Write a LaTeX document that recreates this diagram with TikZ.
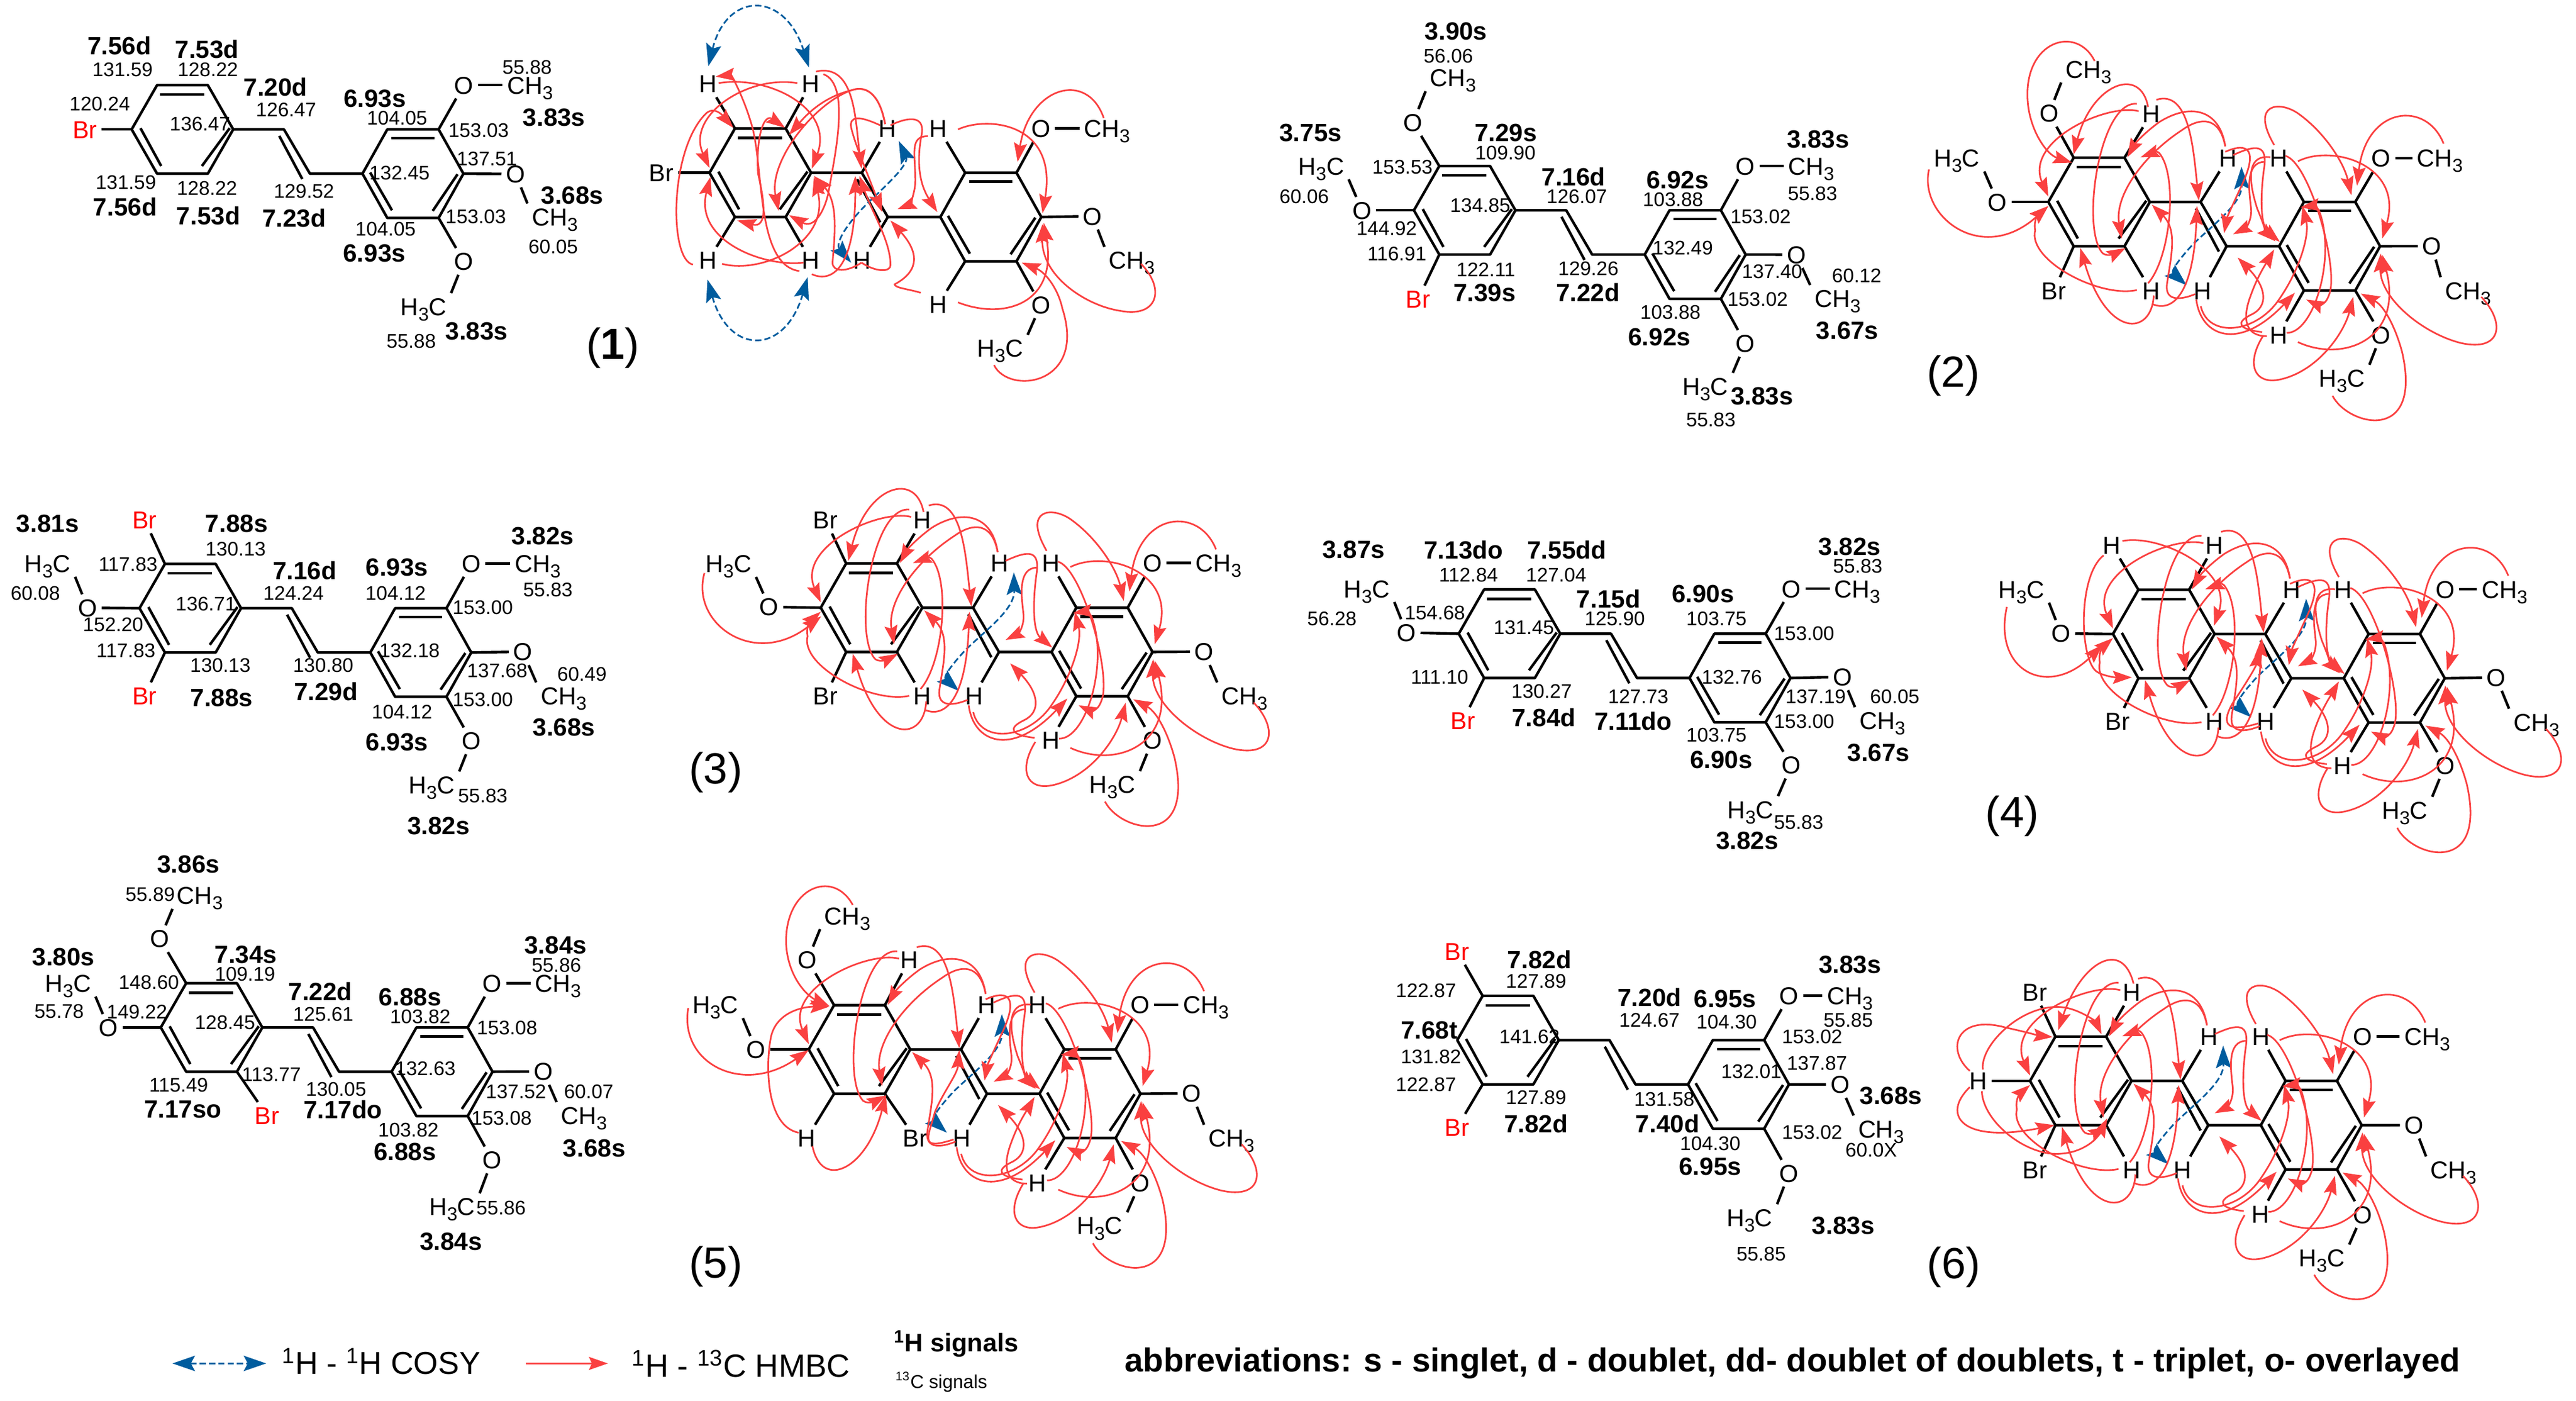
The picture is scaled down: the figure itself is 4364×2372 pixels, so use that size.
\documentclass[tikz,border=0pt]{standalone}
\usepackage{fontspec}
\setmainfont{Liberation Sans}
\usetikzlibrary{arrows.meta}
\definecolor{hmbcred}{RGB}{250,64,64}
\definecolor{cosyblue}{RGB}{0,92,158}
\newcommand{\methyl}{CH\raisebox{-2.6pt}{\fontsize{9}{9}\selectfont 3}}
\newcommand{\lmethyl}{H\raisebox{-2.6pt}{\fontsize{9}{9}\selectfont 3}C}
\tikzset{
  zoomed/.style n args={4}{shift={(#1*0.01cm,-#2*0.01cm)},x={#3*0.01cm/1568},y={-#4*0.01cm/1568}},
  bond/.style={line width=1.25pt,line join=round},
  atom/.style={font=\fontsize{11.8}{14}\selectfont,inner sep=2pt,text height=8.5pt,text depth=0pt},
  bromo/.style={atom,text=red},
  hsig/.style={font=\fontsize{12}{14}\selectfont\bfseries,inner sep=0pt},
  csig/.style={font=\fontsize{9.5}{11}\selectfont,inner sep=0pt},
  pnum/.style={font=\fontsize{21}{24}\selectfont,inner sep=0pt},
  hmbc/.style={color=hmbcred,line width=.8pt,-{Stealth[length=3.2mm,width=2.2mm,inset=.5mm]}},
  cosy/.style={color=cosyblue,line width=.8pt,dash pattern=on 3pt off 1.5pt,{Stealth[length=3.8mm,width=2.6mm,inset=.7mm]}-{Stealth[length=3.8mm,width=2.6mm,inset=.7mm]}},
}
% the stilbene frame, in pixels from the left corner of the first ring
\newcommand{\stilbene}[3]{%
  \begin{scope}[shift={(#2,#3)},x=0.01cm,y=0.01cm]
  \coordinate (#1a1) at (0,0); \coordinate (#1a2) at (43,75); \coordinate (#1a3) at (129,75);
  \coordinate (#1a4) at (172,0); \coordinate (#1a5) at (129,-75); \coordinate (#1a6) at (43,-75);
  \coordinate (#1v1) at (258,0); \coordinate (#1v2) at (302,-75);
  \coordinate (#1b1) at (391,-75); \coordinate (#1b2) at (433,0); \coordinate (#1b3) at (520,0);
  \coordinate (#1b4) at (562,-75); \coordinate (#1b5) at (520,-150); \coordinate (#1b6) at (433,-150);
  \draw[bond] (#1a1) -- (#1a2) -- (#1a3) -- (#1a4) -- (#1a5) -- (#1a6) -- cycle;
  \draw[bond] (#1a4) -- (#1v1) -- (#1v2) -- (#1b1);
  \draw[bond] (#1b1) -- (#1b2) -- (#1b3) -- (#1b4) -- (#1b5) -- (#1b6) -- cycle;
  \draw[bond] (48,59) -- (123,59);
  \draw[bond] (15,2) -- (50,-62);
  \draw[bond] (166,2) -- (119,-62);
  \draw[bond] (250,-11) -- (289,-84);
  \draw[bond] (440,-15) -- (513,-15);
  \draw[bond] (404,-73) -- (441,-137);
  \draw[bond] (552,-76) -- (510,-138);
  \end{scope}}
% correlations that the panels share, written in the frame of panel 2
\newcommand{\ringBarcs}{%
  \draw[hmbc] (1395,530) .. controls (1350,370) and (1190,390) .. (1165,685);
  \draw[hmbc] (1008,595) .. controls (1100,530) and (1290,610) .. (1232,880);
  \draw[hmbc] (1495,1095) .. controls (1560,1190) and (1550,1300) .. (1440,1265) .. controls (1340,1230) and (1225,1100) .. (1228,935);
  \draw[hmbc] (1100,1460) .. controls (1140,1570) and (1340,1640) .. (1285,1300) .. controls (1270,1220) and (1240,1130) .. (1175,1083);
  \draw[hmbc] (1008,1262) .. controls (1130,1340) and (1290,1250) .. (1232,940);
  \draw[hmbc] (945,535) .. controls (880,380) and (960,370) .. (1010,420) .. controls (1080,490) and (1130,600) .. (1150,720);
  \draw[hmbc] (915,1240) .. controls (870,1340) and (890,1420) .. (960,1400) .. controls (1060,1370) and (1130,1230) .. (1155,1095);
  \draw[hmbc] (738,1105) .. controls (750,1240) and (850,1300) .. (1000,1080);
  \draw[hmbc] (750,1130) .. controls (770,1250) and (900,1230) .. (960,1100) .. controls (1010,1000) and (1040,870) .. (1020,760);
  \draw[hmbc] (975,575) .. controls (1040,600) and (1120,1000) .. (1090,1090) .. controls (1080,1130) and (1060,1125) .. (1030,1105);
  \draw[hmbc] (978,1228) .. controls (1050,1230) and (1110,950) .. (1065,780) .. controls (1060,765) and (1040,760) .. (1015,765);
  \draw[cosy] (712,1052) .. controls (670,1000) and (690,960) .. (730,900) .. controls (790,820) and (860,750) .. (858,615);}
\newcommand{\vinylarcs}{%
  \draw[hmbc] (815,540) .. controls (800,400) and (720,380) .. (640,450) .. controls (600,490) and (575,530) .. (555,580);
  \draw[hmbc] (815,540) .. controls (800,430) and (750,430) .. (700,480) .. controls (600,570) and (520,720) .. (540,880);
  \draw[hmbc] (632,368) .. controls (720,330) and (730,550) .. (745,740);
  \draw[hmbc] (735,1085) .. controls (700,1105) and (655,1115) .. (660,1050) .. controls (670,950) and (690,850) .. (620,755);
  \draw[hmbc] (836,572) .. controls (898,532) and (928,532) .. (918,622) .. controls (908,722) and (908,832) .. (960,892);
  \draw[hmbc] (920,597) .. controls (868,597) and (878,702) .. (883,762) .. controls (888,812) and (868,842) .. (836,864);
  \draw[hmbc] (913,1225) .. controls (850,1215) and (840,1190) .. (885,1160) .. controls (930,1130) and (925,1060) .. (848,950);}
\newcommand{\vextraarcs}{%
  \draw[hmbc] (815,560) .. controls (880,520) and (900,560) .. (860,680) .. controls (840,740) and (820,800) .. (812,860);
  \draw[hmbc] (935,580) .. controls (880,570) and (870,640) .. (900,770) .. controls (915,820) and (925,860) .. (948,890);
  \draw[hmbc] (925,1240) .. controls (870,1240) and (860,1180) .. (880,1100) .. controls (900,1020) and (920,980) .. (945,920);}
\newcommand{\aToparcs}{%
  \draw[hmbc] (585,410) .. controls (500,380) and (280,520) .. (345,725);
  \draw[hmbc] (580,383) .. controls (480,370) and (430,850) .. (490,935) .. controls (505,950) and (530,930) .. (550,915);}
\newcommand{\aBotarcs}{%
  \draw[hmbc] (580,1070) .. controls (480,1100) and (290,960) .. (310,850) .. controls (305,810) and (320,790) .. (345,760);
  \draw[hmbc] (625,1090) .. controls (620,1240) and (500,1250) .. (430,915);
  \draw[hmbc] (610,1045) .. controls (670,950) and (690,650) .. (640,565) .. controls (630,550) and (610,570) .. (590,580);
  \draw[hmbc] (622,1122) .. controls (670,1150) and (730,1100) .. (740,760);}
\begin{document}
\begin{tikzpicture}[x=0.01cm,y=-0.01cm]
\useasboundingbox (0,0) rectangle (4364,2372);

% panel 1, shifts
\begin{scope}[zoomed={0}{0}{1100}{640}]
\stilbene{pa}{318}{537}
\node[bromo] (pabr) at (205,537) {Br};
\node[atom] (pao1) at (1120,353) {O};
\node[atom] (pam1) at (1280,353) {\methyl};
\node[atom] (pao2) at (1245,722) {O};
\node[atom] (pam2) at (1340,900) {\methyl};
\node[atom] (pao3) at (1120,1085) {O};
\node[atom] (pam3) at (1023,1272) {\lmethyl};
\draw[bond] (paa1) -- (pabr);
\draw[bond] (pab3) -- (pao1);
\draw[bond] (pao1) -- (pam1);
\draw[bond] (pab4) -- (pao2);
\draw[bond] (pao2) -- (pam2.north west);
\draw[bond] (pab5) -- (pao3);
\draw[bond] (pao3) -- (pam3.north east);
\node[hsig] (pah1) at (288,190) {7.56d};
\node[hsig] (pah2) at (500,205) {7.53d};
\node[hsig] (pah3) at (665,360) {7.20d};
\node[hsig] (pah4) at (905,408) {6.93s};
\node[hsig] (pah5) at (1338,487) {3.83s};
\node[hsig] (pah6) at (1382,810) {3.68s};
\node[hsig] (pah7) at (302,858) {7.56d};
\node[hsig] (pah8) at (503,895) {7.53d};
\node[hsig] (pah9) at (710,905) {7.23d};
\node[hsig] (pah10) at (904,1052) {6.93s};
\node[hsig] (pah11) at (1151,1375) {3.83s};
\node[csig] (pac1) at (296,290) {131.59};
\node[csig] (pac2) at (502,288) {128.22};
\node[csig] (pac3) at (241,432) {120.24};
\node[csig] (pac4) at (691,456) {126.47};
\node[csig] (pac5) at (483,515) {136.47};
\node[csig] (pac6) at (959,490) {104.05};
\node[csig] (pac7) at (1273,280) {55.88};
\node[csig] (pac8) at (1156,541) {153.03};
\node[csig] (pac9) at (1176,658) {137.51};
\node[csig] (pac10) at (965,718) {132.45};
\node[csig] (pac11) at (304,758) {131.59};
\node[csig] (pac12) at (500,782) {128.22};
\node[csig] (pac13) at (734,795) {129.52};
\node[csig] (pac14) at (1149,898) {153.03};
\node[csig] (pac15) at (931,950) {104.05};
\node[csig] (pac16) at (1336,1025) {60.05};
\node[csig] (pac17) at (993,1417) {55.88};
\node[pnum] (pan) at (1480,1445) {(\textbf{1})};
\end{scope}

% panel 1, correlations
\begin{scope}[zoomed={1000}{0}{1100}{640}]
\stilbene{qa}{288}{717}
\node[atom] (qabr) at (172,717) {Br};
\node[atom] (qah1) at (285,348) {H};
\node[atom] (qah2) at (532,348) {H};
\node[atom] (qah3) at (718,533) {H};
\node[atom] (qah4) at (841,533) {H};
\node[atom] (qah5) at (285,1080) {H};
\node[atom] (qah6) at (532,1080) {H};
\node[atom] (qah7) at (656,1080) {H};
\node[atom] (qah8) at (841,1262) {H};
\node[atom] (qao1) at (1088,533) {O};
\node[atom] (qam1) at (1248,533) {\methyl};
\node[atom] (qao2) at (1213,897) {O};
\node[atom] (qam2) at (1308,1080) {\methyl};
\node[atom] (qao3) at (1088,1265) {O};
\node[atom] (qam3) at (990,1445) {\lmethyl};
\draw[bond] (qaa1) -- (qabr);
\draw[bond] (qaa2) -- (qah1);
\draw[bond] (qaa3) -- (qah2);
\draw[bond] (qav1) -- (qah3);
\draw[bond] (qab2) -- (qah4);
\draw[bond] (qaa6) -- (qah5);
\draw[bond] (qaa5) -- (qah6);
\draw[bond] (qav2) -- (qah7);
\draw[bond] (qab6) -- (qah8);
\draw[bond] (qab3) -- (qao1);
\draw[bond] (qao1) -- (qam1);
\draw[bond] (qab4) -- (qao2);
\draw[bond] (qao2) -- (qam2.north west);
\draw[bond] (qab5) -- (qao3);
\draw[bond] (qao3) -- (qam3.north east);
\draw[cosy] (285,275) .. controls (330,-38) and (470,-38) .. (528,280);
\draw[cosy] (283,1160) .. controls (335,1475) and (470,1475) .. (525,1150);
\draw[cosy] (630,1090) .. controls (590,1010) and (620,920) .. (690,810) .. controls (720,760) and (770,680) .. (745,585);
\draw[hmbc] (500,345) .. controls (380,310) and (230,480) .. (288,697);
\draw[hmbc] (310,345) .. controls (430,310) and (590,450) .. (535,700);
\draw[hmbc] (505,1125) .. controls (400,1100) and (420,700) .. (390,520) .. controls (370,400) and (340,310) .. (303,318);
\draw[hmbc] (248,1098) .. controls (190,1080) and (190,620) .. (280,470) .. controls (300,440) and (320,480) .. (345,530);
\draw[hmbc] (318,1095) .. controls (420,1140) and (580,1000) .. (540,735);
\draw[hmbc] (563,308) .. controls (630,350) and (590,650) .. (575,800) .. controls (565,880) and (540,950) .. (480,893);
\draw[hmbc] (545,297) .. controls (640,260) and (640,500) .. (655,700);
\draw[hmbc] (712,515) .. controls (700,400) and (670,350) .. (630,375) .. controls (570,400) and (530,460) .. (480,560);
\draw[hmbc] (712,515) .. controls (700,400) and (670,350) .. (630,375) .. controls (540,430) and (430,670) .. (455,875);
\draw[hmbc] (700,520) .. controls (650,480) and (625,480) .. (630,530) .. controls (640,600) and (660,680) .. (705,880);
\draw[hmbc] (725,520) .. controls (760,490) and (810,470) .. (800,560) .. controls (790,650) and (790,750) .. (838,880);
\draw[hmbc] (815,565) .. controls (770,565) and (785,640) .. (785,750) .. controls (785,800) and (770,850) .. (742,868);
\draw[hmbc] (888,537) .. controls (960,480) and (1130,510) .. (1092,885);
\draw[hmbc] (1240,490) .. controls (1200,290) and (1060,360) .. (1032,672);
\draw[hmbc] (798,1215) .. controls (770,1200) and (735,1195) .. (735,1180) .. controls (800,1120) and (790,1040) .. (725,915);
\draw[hmbc] (888,1255) .. controls (1000,1330) and (1130,1260) .. (1095,925);
\draw[hmbc] (1330,1095) .. controls (1390,1200) and (1370,1320) .. (1280,1290) .. controls (1200,1270) and (1090,1150) .. (1092,930);
\draw[hmbc] (975,1515) .. controls (1010,1640) and (1200,1600) .. (1140,1280) .. controls (1130,1200) and (1100,1130) .. (1042,1090);
\draw[hmbc] (515,1090) .. controls (420,1110) and (250,1000) .. (290,735);
\draw[hmbc] (405,720) .. controls (400,560) and (420,470) .. (470,530);
\draw[hmbc] (405,720) .. controls (420,830) and (430,950) .. (355,915);
\draw[hmbc] (535,1138) .. controls (590,1180) and (640,1090) .. (640,730);
\draw[hmbc] (655,1090) .. controls (620,1130) and (585,1130) .. (585,1090) .. controls (590,980) and (600,840) .. (540,730);
\draw[hmbc] (655,1090) .. controls (690,1130) and (725,1130) .. (725,1100) .. controls (725,1000) and (680,880) .. (650,730);
\end{scope}

% panel 2, shifts
\begin{scope}[zoomed={2120}{0}{1130}{760}]
\stilbene{pb}{382}{735}
\node[atom] (pbm1) at (474,272) {\methyl};
\node[atom] (pbo1) at (380,428) {O};
\node[atom] (pbm2) at (164,580) {\lmethyl};
\node[atom] (pbo2) at (260,735) {O};
\node[bromo] (pbbr) at (392,1045) {Br};
\node[atom] (pbo3) at (1161,580) {O};
\node[atom] (pbm3) at (1316,580) {\methyl};
\node[atom] (pbo4) at (1281,890) {O};
\node[atom] (pbm4) at (1378,1043) {\methyl};
\node[atom] (pbo5) at (1161,1200) {O};
\node[atom] (pbm5) at (1067,1350) {\lmethyl};
\draw[bond] (pba2) -- (pbo1);
\draw[bond] (pbo1) -- (pbm1.south west);
\draw[bond] (pba1) -- (pbo2);
\draw[bond] (pbo2) -- (pbm2.south east);
\draw[bond] (pba6) -- (pbbr);
\draw[bond] (pbb3) -- (pbo3);
\draw[bond] (pbo3) -- (pbm3);
\draw[bond] (pbb4) -- (pbo4);
\draw[bond] (pbo4) -- (pbm4.north west);
\draw[bond] (pbb5) -- (pbo5);
\draw[bond] (pbo5) -- (pbm5.north east);
\node[hsig] (pbh1) at (481,110) {3.90s};
\node[hsig] (pbh2) at (139,465) {3.75s};
\node[hsig] (pbh3) at (598,465) {7.29s};
\node[hsig] (pbh4) at (1332,487) {3.83s};
\node[hsig] (pbh5) at (757,617) {7.16d};
\node[hsig] (pbh6) at (1002,630) {6.92s};
\node[hsig] (pbh7) at (548,1023) {7.39s};
\node[hsig] (pbh8) at (791,1022) {7.22d};
\node[hsig] (pbh9) at (959,1178) {6.92s};
\node[hsig] (pbh10) at (1401,1155) {3.67s};
\node[hsig] (pbh11) at (1200,1385) {3.83s};
\node[csig] (pbc1) at (463,197) {56.06};
\node[csig] (pbc2) at (597,534) {109.90};
\node[csig] (pbc3) at (355,584) {153.53};
\node[csig] (pbc4) at (124,687) {60.06};
\node[csig] (pbc5) at (1319,677) {55.83};
\node[csig] (pbc6) at (765,688) {126.07};
\node[csig] (pbc7) at (991,698) {103.88};
\node[csig] (pbc8) at (538,718) {134.85};
\node[csig] (pbc9) at (1197,757) {153.02};
\node[csig] (pbc10) at (318,798) {144.92};
\node[csig] (pbc11) at (1014,867) {132.49};
\node[csig] (pbc12) at (342,888) {116.91};
\node[csig] (pbc13) at (551,942) {122.11};
\node[csig] (pbc14) at (792,938) {129.26};
\node[csig] (pbc15) at (1224,950) {137.40};
\node[csig] (pbc16) at (1423,963) {60.12};
\node[csig] (pbc17) at (1190,1046) {153.02};
\node[csig] (pbc18) at (985,1091) {103.88};
\node[csig] (pbc19) at (1080,1467) {55.83};
\end{scope}

% panel 2, correlations
\begin{scope}[zoomed={3250}{0}{1000}{720}]
\stilbene{qb}{345}{745}
\node[atom] (qbm1) at (452,255) {\methyl};
\node[atom] (qbo1) at (347,418) {O};
\node[atom] (qbh1) at (618,420) {H};
\node[atom] (qbm2) at (102,583) {\lmethyl};
\node[atom] (qbo2) at (210,745) {O};
\node[atom] (qbh2) at (822,583) {H};
\node[atom] (qbh3) at (957,583) {H};
\node[atom] (qbo3) at (1229,583) {O};
\node[atom] (qbm3) at (1385,583) {\methyl};
\node[atom] (qbbr) at (360,1072) {Br};
\node[atom] (qbh4) at (618,1072) {H};
\node[atom] (qbh5) at (755,1072) {H};
\node[atom] (qbh6) at (957,1235) {H};
\node[atom] (qbo4) at (1364,908) {O};
\node[atom] (qbm4) at (1460,1072) {\methyl};
\node[atom] (qbo5) at (1229,1235) {O};
\node[atom] (qbm5) at (1125,1395) {\lmethyl};
\node[pnum] (qbn) at (93,1385) {(2)};
\draw[bond] (qba2) -- (qbo1);
\draw[bond] (qbo1) -- (qbm1.south west);
\draw[bond] (qba3) -- (qbh1);
\draw[bond] (qba1) -- (qbo2);
\draw[bond] (qbo2) -- (qbm2.south east);
\draw[bond] (qbv1) -- (qbh2);
\draw[bond] (qbb2) -- (qbh3);
\draw[bond] (qbb3) -- (qbo3);
\draw[bond] (qbo3) -- (qbm3);
\draw[bond] (qba6) -- (qbbr);
\draw[bond] (qba5) -- (qbh4);
\draw[bond] (qbv2) -- (qbh5);
\draw[bond] (qbb6) -- (qbh6);
\draw[bond] (qbb4) -- (qbo4);
\draw[bond] (qbo4) -- (qbm4.north west);
\draw[bond] (qbb5) -- (qbo5);
\draw[bond] (qbo5) -- (qbm5.north east);
\ringBarcs
\vinylarcs
\vextraarcs
\aToparcs
\aBotarcs
\draw[hmbc] (468,225) .. controls (420,90) and (280,150) .. (290,370) .. controls (295,480) and (340,570) .. (408,600);
\draw[hmbc] (610,395) .. controls (590,240) and (460,310) .. (412,570);
\draw[hmbc] (28,625) .. controls (0,800) and (170,980) .. (345,760);
\end{scope}

% panel 3, shifts
\begin{scope}[zoomed={0}{770}{1130}{680}]
\stilbene{pc}{328}{600}
\node[bromo] (pcbr1) at (340,255) {Br};
\node[atom] (pcm1) at (112,425) {\lmethyl};
\node[atom] (pco1) at (206,598) {O};
\node[bromo] (pcbr2) at (340,942) {Br};
\node[atom] (pco2) at (1108,425) {O};
\node[atom] (pcm2) at (1264,425) {\methyl};
\node[atom] (pco3) at (1229,770) {O};
\node[atom] (pcm3) at (1325,942) {\methyl};
\node[atom] (pco4) at (1108,1118) {O};
\node[atom] (pcm4) at (1015,1290) {\lmethyl};
\draw[bond] (pca2) -- (pcbr1);
\draw[bond] (pca1) -- (pco1);
\draw[bond] (pco1) -- (pcm1.south east);
\draw[bond] (pca6) -- (pcbr2);
\draw[bond] (pcb3) -- (pco2);
\draw[bond] (pco2) -- (pcm2);
\draw[bond] (pcb4) -- (pco3);
\draw[bond] (pco3) -- (pcm3.north west);
\draw[bond] (pcb5) -- (pco4);
\draw[bond] (pco4) -- (pcm4.north east);
\node[hsig] (pch1) at (112,270) {3.81s};
\node[hsig] (pch2) at (556,270) {7.88s};
\node[hsig] (pch3) at (1276,318) {3.82s};
\node[hsig] (pch4) at (716,452) {7.16d};
\node[hsig] (pch5) at (933,440) {6.93s};
\node[hsig] (pch6) at (521,950) {7.88s};
\node[hsig] (pch7) at (766,925) {7.29d};
\node[hsig] (pch8) at (933,1122) {6.93s};
\node[hsig] (pch9) at (1326,1065) {3.68s};
\node[hsig] (pch10) at (1031,1450) {3.82s};
\node[csig] (pcc1) at (554,370) {130.13};
\node[csig] (pcc2) at (301,430) {117.83};
\node[csig] (pcc3) at (83,542) {60.08};
\node[csig] (pcc4) at (690,542) {124.24};
\node[csig] (pcc5) at (930,542) {104.12};
\node[csig] (pcc6) at (1288,528) {55.83};
\node[csig] (pcc7) at (484,583) {136.71};
\node[csig] (pcc8) at (1135,597) {153.00};
\node[csig] (pcc9) at (266,665) {152.20};
\node[csig] (pcc10) at (296,765) {117.83};
\node[csig] (pcc11) at (963,765) {132.18};
\node[csig] (pcc12) at (518,823) {130.13};
\node[csig] (pcc13) at (760,823) {130.80};
\node[csig] (pcc14) at (1169,843) {137.68};
\node[csig] (pcc15) at (1368,858) {60.49};
\node[csig] (pcc16) at (1135,958) {153.00};
\node[csig] (pcc17) at (945,1005) {104.12};
\node[csig] (pcc18) at (1135,1333) {55.83};
\end{scope}

% panel 3, correlations
\begin{scope}[zoomed={1150}{780}{1000}{720}]
\stilbene{qc}{377}{543}
\node[atom] (qcbr1) at (390,220) {Br};
\node[atom] (qch1) at (647,220) {H};
\node[atom] (qcm1) at (132,380) {\lmethyl};
\node[atom] (qco1) at (240,540) {O};
\node[atom] (qch2) at (852,378) {H};
\node[atom] (qch3) at (988,378) {H};
\node[atom] (qco2) at (1258,378) {O};
\node[atom] (qcm2) at (1434,378) {\methyl};
\node[atom] (qcbr2) at (390,868) {Br};
\node[atom] (qch4) at (647,868) {H};
\node[atom] (qch5) at (784,868) {H};
\node[atom] (qco3) at (1395,705) {O};
\node[atom] (qcm3) at (1503,868) {\methyl};
\node[atom] (qch6) at (988,1032) {H};
\node[atom] (qco4) at (1258,1032) {O};
\node[atom] (qcm4) at (1152,1195) {\lmethyl};
\node[pnum] (qcn) at (98,1150) {(3)};
\draw[bond] (qca2) -- (qcbr1);
\draw[bond] (qca3) -- (qch1);
\draw[bond] (qca1) -- (qco1);
\draw[bond] (qco1) -- (qcm1.south east);
\draw[bond] (qcv1) -- (qch2);
\draw[bond] (qcb2) -- (qch3);
\draw[bond] (qcb3) -- (qco2);
\draw[bond] (qco2) -- (qcm2);
\draw[bond] (qca6) -- (qcbr2);
\draw[bond] (qca5) -- (qch4);
\draw[bond] (qcv2) -- (qch5);
\draw[bond] (qcb4) -- (qco3);
\draw[bond] (qco3) -- (qcm3.north west);
\draw[bond] (qcb6) -- (qch6);
\draw[bond] (qcb5) -- (qco4);
\draw[bond] (qco4) -- (qcm4.north east);
\begin{scope}[shift={(32,-202)}]
\ringBarcs
\vinylarcs
\aToparcs
\aBotarcs
\end{scope}
\draw[hmbc] (650,190) .. controls (630,40) and (500,90) .. (450,370);
\draw[hmbc] (68,415) .. controls (30,600) and (200,770) .. (378,575);
\end{scope}

% panel 4, shifts
\begin{scope}[zoomed={2170}{850}{1130}{620}]
\stilbene{pd}{418}{565}
\node[atom] (pdm1) at (202,372) {\lmethyl};
\node[atom] (pdo1) at (295,560) {O};
\node[bromo] (pdbr) at (428,937) {Br};
\node[atom] (pdo2) at (1200,372) {O};
\node[atom] (pdm2) at (1355,372) {\methyl};
\node[atom] (pdo3) at (1320,750) {O};
\node[atom] (pdm3) at (1414,937) {\methyl};
\node[atom] (pdo4) at (1200,1128) {O};
\node[atom] (pdm4) at (1104,1318) {\lmethyl};
\draw[bond] (pda1) -- (pdo1);
\draw[bond] (pdo1) -- (pdm1.south east);
\draw[bond] (pda6) -- (pdbr);
\draw[bond] (pdb3) -- (pdo2);
\draw[bond] (pdo2) -- (pdm2);
\draw[bond] (pdb4) -- (pdo3);
\draw[bond] (pdo3) -- (pdm3.north west);
\draw[bond] (pdb5) -- (pdo4);
\draw[bond] (pdo4) -- (pdm4.north east);
\node[hsig] (pdh1) at (171,205) {3.87s};
\node[hsig] (pdh2) at (429,207) {7.13do};
\node[hsig] (pdh3) at (672,207) {7.55dd};
\node[hsig] (pdh4) at (1337,192) {3.82s};
\node[hsig] (pdh5) at (770,417) {7.15d};
\node[hsig] (pdh6) at (992,395) {6.90s};
\node[hsig] (pdh7) at (618,925) {7.84d};
\node[hsig] (pdh8) at (828,940) {7.11do};
\node[hsig] (pdh9) at (1035,1105) {6.90s};
\node[hsig] (pdh10) at (1405,1075) {3.67s};
\node[hsig] (pdh11) at (1096,1452) {3.82s};
\node[csig] (pdc1) at (441,313) {112.84};
\node[csig] (pdc2) at (647,313) {127.04};
\node[csig] (pdc3) at (1356,275) {55.83};
\node[csig] (pdc4) at (362,475) {154.68};
\node[csig] (pdc5) at (120,500) {56.28};
\node[csig] (pdc6) at (785,500) {125.90};
\node[csig] (pdc7) at (1024,500) {103.75};
\node[csig] (pdc8) at (571,538) {131.45};
\node[csig] (pdc9) at (1230,563) {153.00};
\node[csig] (pdc10) at (1060,750) {132.76};
\node[csig] (pdc11) at (373,752) {111.10};
\node[csig] (pdc12) at (613,812) {130.27};
\node[csig] (pdc13) at (840,835) {127.73};
\node[csig] (pdc14) at (1257,835) {137.19};
\node[csig] (pdc15) at (1443,835) {60.05};
\node[csig] (pdc16) at (1230,940) {153.00};
\node[csig] (pdc17) at (1024,998) {103.75};
\node[csig] (pdc18) at (1217,1373) {55.83};
\end{scope}

% panel 4, correlations
\begin{scope}[zoomed={3350}{780}{1000}{720}]
\stilbene{qd}{360}{640}
\node[atom] (qdh1) at (357,312) {H};
\node[atom] (qdh2) at (630,312) {H};
\node[atom] (qdm1) at (117,475) {\lmethyl};
\node[atom] (qdo1) at (222,638) {O};
\node[atom] (qdh3) at (835,475) {H};
\node[atom] (qdh4) at (972,475) {H};
\node[atom] (qdo2) at (1242,475) {O};
\node[atom] (qdm2) at (1400,475) {\methyl};
\node[atom] (qdbr) at (372,962) {Br};
\node[atom] (qdh5) at (630,962) {H};
\node[atom] (qdh6) at (766,962) {H};
\node[atom] (qdo3) at (1378,800) {O};
\node[atom] (qdm3) at (1485,965) {\methyl};
\node[atom] (qdh7) at (970,1125) {H};
\node[atom] (qdo4) at (1242,1125) {O};
\node[atom] (qdm4) at (1135,1290) {\lmethyl};
\node[pnum] (qdn) at (92,1312) {(4)};
\draw[bond] (qda2) -- (qdh1);
\draw[bond] (qda3) -- (qdh2);
\draw[bond] (qda1) -- (qdo1);
\draw[bond] (qdo1) -- (qdm1.south east);
\draw[bond] (qdv1) -- (qdh3);
\draw[bond] (qdb2) -- (qdh4);
\draw[bond] (qdb3) -- (qdo2);
\draw[bond] (qdo2) -- (qdm2);
\draw[bond] (qda6) -- (qdbr);
\draw[bond] (qda5) -- (qdh5);
\draw[bond] (qdv2) -- (qdh6);
\draw[bond] (qdb4) -- (qdo3);
\draw[bond] (qdo3) -- (qdm3.north west);
\draw[bond] (qdb6) -- (qdh7);
\draw[bond] (qdb5) -- (qdo4);
\draw[bond] (qdo4) -- (qdm4.north east);
\begin{scope}[shift={(15,-105)}]
\ringBarcs
\vinylarcs
\vextraarcs
\aToparcs
\aBotarcs
\end{scope}
\draw[hmbc] (335,350) .. controls (270,420) and (270,700) .. (310,770) .. controls (320,790) and (360,800) .. (410,800);
\draw[hmbc] (385,297) .. controls (480,270) and (680,400) .. (628,610);
\draw[hmbc] (78,540) .. controls (40,780) and (190,880) .. (332,680);
\draw[hmbc] (745,970) .. controls (650,1010) and (650,960) .. (680,890) .. controls (710,830) and (740,760) .. (748,695);
\end{scope}

% panel 5, shifts
\begin{scope}[zoomed={0}{1420}{1130}{730}]
\stilbene{pe}{378}{688}
\node[atom] (pem1) at (470,208) {\methyl};
\node[atom] (peo1) at (376,365) {O};
\node[atom] (pem2) at (160,527) {\lmethyl};
\node[atom] (peo2) at (255,688) {O};
\node[bromo] (pebr) at (628,1008) {Br};
\node[atom] (peo3) at (1157,527) {O};
\node[atom] (pem3) at (1312,527) {\methyl};
\node[atom] (peo4) at (1277,848) {O};
\node[atom] (pem4) at (1373,1008) {\methyl};
\node[atom] (peo5) at (1157,1170) {O};
\node[atom] (pem5) at (1063,1340) {\lmethyl};
\draw[bond] (pea2) -- (peo1);
\draw[bond] (peo1) -- (pem1.south west);
\draw[bond] (pea1) -- (peo2);
\draw[bond] (peo2) -- (pem2.south east);
\draw[bond] (pea5) -- (pebr);
\draw[bond] (peb3) -- (peo3);
\draw[bond] (peo3) -- (pem3);
\draw[bond] (peb4) -- (peo4);
\draw[bond] (peo4) -- (pem4.north west);
\draw[bond] (peb5) -- (peo5);
\draw[bond] (peo5) -- (pem5.north east);
\node[hsig] (peh1) at (443,95) {3.86s};
\node[hsig] (peh2) at (149,432) {3.80s};
\node[hsig] (peh3) at (578,423) {7.34s};
\node[hsig] (peh4) at (1306,388) {3.84s};
\node[hsig] (peh5) at (753,558) {7.22d};
\node[hsig] (peh6) at (964,578) {6.88s};
\node[hsig] (peh7) at (430,987) {7.17so};
\node[hsig] (peh8) at (806,987) {7.17do};
\node[hsig] (peh9) at (952,1140) {6.88s};
\node[hsig] (peh10) at (1397,1127) {3.68s};
\node[hsig] (peh11) at (1060,1467) {3.84s};
\node[csig] (pec1) at (353,205) {55.89};
\node[csig] (pec2) at (1308,462) {55.86};
\node[csig] (pec3) at (576,494) {109.19};
\node[csig] (pec4) at (350,525) {148.60};
\node[csig] (pec5) at (139,630) {55.78};
\node[csig] (pec6) at (322,632) {149.22};
\node[csig] (pec7) at (760,640) {125.61};
\node[csig] (pec8) at (988,648) {103.82};
\node[csig] (pec9) at (529,670) {128.45};
\node[csig] (pec10) at (1192,690) {153.08};
\node[csig] (pec11) at (1000,838) {132.63};
\node[csig] (pec12) at (638,860) {113.77};
\node[csig] (pec13) at (420,898) {115.49};
\node[csig] (pec14) at (790,912) {130.05};
\node[csig] (pec15) at (1213,922) {137.52};
\node[csig] (pec16) at (1384,922) {60.07};
\node[csig] (pec17) at (1179,1018) {153.08};
\node[csig] (pec18) at (960,1060) {103.82};
\node[csig] (pec19) at (1178,1345) {55.86};
\end{scope}

% panel 5, correlations
\begin{scope}[zoomed={1150}{1480}{1000}{720}]
\stilbene{qe}{345}{648}
\node[atom] (qem1) at (448,155) {\methyl};
\node[atom] (qeo1) at (342,318) {O};
\node[atom] (qeh1) at (612,318) {H};
\node[atom] (qem2) at (97,483) {\lmethyl};
\node[atom] (qeo2) at (205,648) {O};
\node[atom] (qeh2) at (817,483) {H};
\node[atom] (qeh3) at (953,483) {H};
\node[atom] (qeo3) at (1225,483) {O};
\node[atom] (qem3) at (1400,483) {\methyl};
\node[atom] (qeh4) at (340,975) {H};
\node[atom] (qebr) at (628,975) {Br};
\node[atom] (qeh5) at (752,975) {H};
\node[atom] (qeo4) at (1362,810) {O};
\node[atom] (qem4) at (1468,975) {\methyl};
\node[atom] (qeh6) at (952,1140) {H};
\node[atom] (qeo5) at (1225,1140) {O};
\node[atom] (qem5) at (1118,1298) {\lmethyl};
\node[pnum] (qen) at (98,1450) {(5)};
\draw[bond] (qea2) -- (qeo1);
\draw[bond] (qeo1) -- (qem1.south west);
\draw[bond] (qea3) -- (qeh1);
\draw[bond] (qea1) -- (qeo2);
\draw[bond] (qeo2) -- (qem2.south east);
\draw[bond] (qev1) -- (qeh2);
\draw[bond] (qeb2) -- (qeh3);
\draw[bond] (qeb3) -- (qeo3);
\draw[bond] (qeo3) -- (qem3);
\draw[bond] (qea6) -- (qeh4);
\draw[bond] (qea5) -- (qebr);
\draw[bond] (qev2) -- (qeh5);
\draw[bond] (qeb4) -- (qeo4);
\draw[bond] (qeo4) -- (qem4.north west);
\draw[bond] (qeb6) -- (qeh6);
\draw[bond] (qeb5) -- (qeo5);
\draw[bond] (qeo5) -- (qem5.north east);
\begin{scope}[shift={(0,-97)}]
\ringBarcs
\vinylarcs
\vextraarcs
\aToparcs
\end{scope}
\draw[hmbc] (462,115) .. controls (410,-20) and (280,50) .. (285,260) .. controls (290,380) and (340,450) .. (400,488);
\draw[hmbc] (318,955) .. controls (230,930) and (230,700) .. (245,600) .. controls (260,510) and (330,490) .. (400,490);
\draw[hmbc] (25,495) .. controls (0,700) and (170,820) .. (345,650);
\draw[hmbc] (355,1005) .. controls (380,1170) and (500,1090) .. (550,815);
\draw[hmbc] (730,980) .. controls (640,1020) and (660,980) .. (680,880) .. controls (700,810) and (740,740) .. (745,650);
\end{scope}

% panel 6, shifts
\begin{scope}[zoomed={0}{0}{4364}{4364}]
\stilbene{pf}{887}{633}
\node[bromo] (pfbr1) at (887,579) {Br};
\node[bromo] (pfbr2) at (887,686) {Br};
\node[atom] (pfo1) at (1089,606) {O};
\node[atom] (pfm1) at (1126,606) {\methyl};
\node[atom] (pfo2) at (1120,660) {O};
\node[atom] (pfm2) at (1145,687) {\methyl};
\node[atom] (pfo3) at (1089,714) {O};
\node[atom] (pfm3) at (1065,741) {\lmethyl};
\draw[bond] (pfa2) -- (pfbr1);
\draw[bond] (pfa6) -- (pfbr2);
\draw[bond] (pfb3) -- (pfo1);
\draw[bond] (pfo1) -- (pfm1);
\draw[bond] (pfb4) -- (pfo2);
\draw[bond] (pfo2) -- (pfm2.north west);
\draw[bond] (pfb5) -- (pfo3);
\draw[bond] (pfo3) -- (pfm3.north east);
\node[hsig] (pfh1) at (937,584) {7.82d};
\node[hsig] (pfh2) at (1004,607) {7.20d};
\node[hsig] (pfh3) at (1050,608) {6.95s};
\node[hsig] (pfh4) at (1126,587) {3.83s};
\node[hsig] (pfh5) at (870,627) {7.68t};
\node[hsig] (pfh6) at (1151,667) {3.68s};
\node[hsig] (pfh7) at (935,684) {7.82d};
\node[hsig] (pfh8) at (1015,684) {7.40d};
\node[hsig] (pfh9) at (1041,710) {6.95s};
\node[hsig] (pfh10) at (1122,746) {3.83s};
\node[csig] (pfc1) at (868,603) {122.87};
\node[csig] (pfc2) at (935,597) {127.89};
\node[csig] (pfc3) at (1004,621) {124.67};
\node[csig] (pfc4) at (1051,622) {104.30};
\node[csig] (pfc5) at (1125,621) {55.85};
\node[csig] (pfc6) at (1103,631) {153.02};
\node[csig] (pfc7) at (931,631) {141.62};
\node[csig] (pfc8) at (871,643) {131.82};
\node[csig] (pfc9) at (1106,647) {137.87};
\node[csig] (pfc10) at (1066,652) {132.01};
\node[csig] (pfc11) at (868,660) {122.87};
\node[csig] (pfc12) at (935,668) {127.89};
\node[csig] (pfc13) at (1013,669) {131.58};
\node[csig] (pfc14) at (1103,689) {153.02};
\node[csig] (pfc15) at (1139,700) {60.0X};
\node[csig] (pfc16) at (1041,696) {104.30};
\node[csig] (pfc17) at (1072,763) {55.85};
\end{scope}

% panel 6, correlations
\begin{scope}[zoomed={3270}{1520}{1000}{720}]
\stilbene{qf}{265}{677}
\node[atom] (qfbr1) at (278,350) {Br};
\node[atom] (qfh1) at (535,350) {H};
\node[atom] (qfh2) at (740,513) {H};
\node[atom] (qfh3) at (878,513) {H};
\node[atom] (qfo1) at (1148,513) {O};
\node[atom] (qfm1) at (1320,513) {\methyl};
\node[atom] (qfh4) at (127,677) {H};
\node[atom] (qfbr2) at (278,1005) {Br};
\node[atom] (qfh5) at (535,1005) {H};
\node[atom] (qfh6) at (670,1005) {H};
\node[atom] (qfo2) at (1285,840) {O};
\node[atom] (qfm2) at (1390,1005) {\methyl};
\node[atom] (qfh7) at (877,1168) {H};
\node[atom] (qfo3) at (1148,1170) {O};
\node[atom] (qfm3) at (1040,1330) {\lmethyl};
\node[pnum] (qfn) at (62,1365) {(6)};
\draw[bond] (qfa2) -- (qfbr1);
\draw[bond] (qfa3) -- (qfh1);
\draw[bond] (qfv1) -- (qfh2);
\draw[bond] (qfb2) -- (qfh3);
\draw[bond] (qfb3) -- (qfo1);
\draw[bond] (qfo1) -- (qfm1);
\draw[bond] (qfa1) -- (qfh4);
\draw[bond] (qfa6) -- (qfbr2);
\draw[bond] (qfa5) -- (qfh5);
\draw[bond] (qfv2) -- (qfh6);
\draw[bond] (qfb4) -- (qfo2);
\draw[bond] (qfo2) -- (qfm2.north west);
\draw[bond] (qfb6) -- (qfh7);
\draw[bond] (qfb5) -- (qfo3);
\draw[bond] (qfo3) -- (qfm3.north east);
\begin{scope}[shift={(-80,-68)}]
\ringBarcs
\vinylarcs
\aToparcs
\aBotarcs
\end{scope}
\draw[hmbc] (540,318) .. controls (510,150) and (400,240) .. (340,490);
\draw[hmbc] (105,640) .. controls (40,560) and (70,430) .. (200,480) .. controls (250,495) and (290,510) .. (325,515);
\draw[hmbc] (105,700) .. controls (30,800) and (80,910) .. (330,840);
\draw[hmbc] (140,635) .. controls (130,540) and (260,370) .. (370,410) .. controls (410,425) and (440,460) .. (455,505);
\draw[hmbc] (137,715) .. controls (140,830) and (260,960) .. (350,945) .. controls (400,940) and (440,900) .. (470,815);
\end{scope}

% legend
\begin{scope}[zoomed={0}{2150}{4364}{522.67}]
\coordinate (lga) at (105,478);
\coordinate (lgb) at (162,478);
\coordinate (lgc) at (320,478);
\coordinate (lgd) at (370,478);
\draw[cosy] (lga) -- (lgb);
\draw[hmbc] (lgc) -- (lgd);
\node[font=\fontsize{15.2}{18}\selectfont,inner sep=0pt] (lgcosy) at (232,468) {\textsuperscript{1}H - \textsuperscript{1}H COSY};
\node[font=\fontsize{15.5}{18}\selectfont,inner sep=0pt] (lghmbc) at (451,480) {\textsuperscript{1}H - \textsuperscript{13}C HMBC};
\node[font=\fontsize{12.3}{14}\selectfont\bfseries,inner sep=0pt] (lgh) at (582,378) {\textsuperscript{1}H signals};
\node[font=\fontsize{9}{11}\selectfont,inner sep=0pt] (lgc13) at (573,572) {\textsuperscript{13}C signals};
\node[font=\fontsize{16}{18}\selectfont\bfseries,inner sep=0pt] (lgabbr) at (1091,478) {abbreviations: s - singlet, d - doublet, dd- doublet of doublets, t - triplet, o- overlayed};
\end{scope}
\end{tikzpicture}
\end{document}
